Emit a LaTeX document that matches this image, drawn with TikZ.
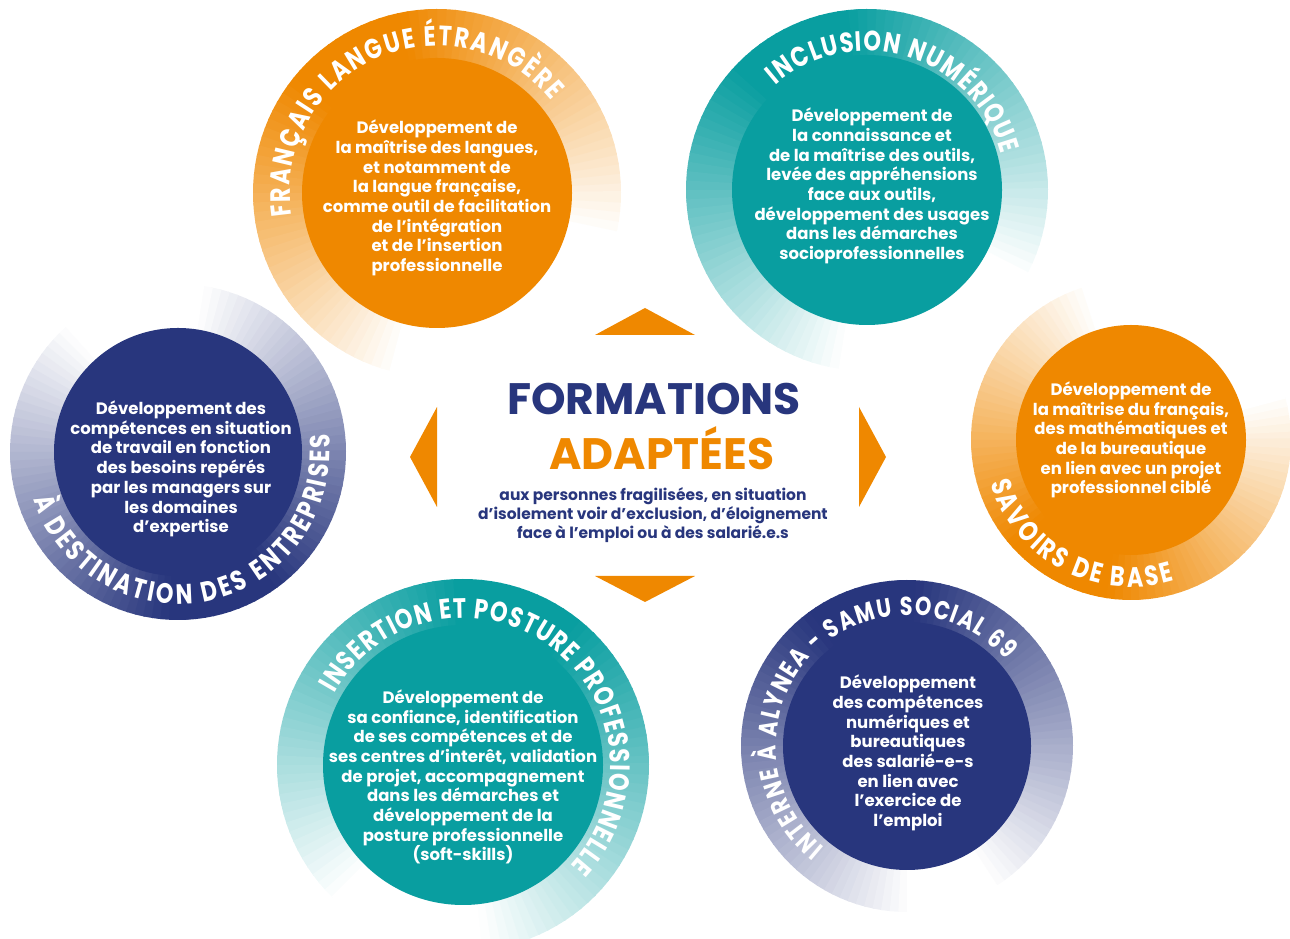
\documentclass[tikz,border=0pt]{standalone}
\usepackage{fontspec}
\setmainfont{Poppins}
\newfontfamily\ringfam{Poppins}[FakeStretch=0.8]
\usetikzlibrary{decorations.text,positioning}

\definecolor{orangeF}{RGB}{239,136,0}
\definecolor{tealF}{RGB}{9,158,160}
\definecolor{navyF}{RGB}{40,54,125}

\newcommand{\ringfont}{\ringfam\bfseries\fontsize{28}{28}\selectfont}
\newcommand{\ringfontsm}{\ringfam\bfseries\fontsize{26}{26}\selectfont}

\tikzset{
  disc/.style={circle, inner sep=0pt, minimum size={2*#1*1pt}},
  bodytxt/.style={text=white, align=center, inner sep=0pt, font=\bfseries\fontsize{16.5}{19.7}\selectfont},
  ringtxt/.style={decorate, decoration={text along path, text align=fit to path, text color=white, text={#1}}},
  pointer/.style={fill=orangeF},
}

\begin{document}
\begin{tikzpicture}[x=1pt, y=1pt]
  \useasboundingbox (0,0) rectangle (1290,939);

  % fading rings
  \foreach \cx/\cy/\rout/\col/\peak/\wid in {437/746/184/orangeF/120/135, 867/749/181/tealF/115/145, 1131/499/160/orangeF/240/135, 178/487/168/navyF/285/155, 463/174/186/tealF/70/155, 907/193/166/navyF/105/165}{
    \foreach \a in {0,3,...,357}{
      \pgfmathsetmacro\d{abs(mod(\a-\peak+540,360)-180)}
      \pgfmathsetmacro\p{100*max(0,min(1,(\wid-\d)/(\wid-20)))}
      \fill[\col!\p!white] (\cx,\cy) -- ++(\a:\rout) arc[start angle=\a, end angle=\a+3.6, radius=\rout] -- cycle;
    }
  }

  % discs
  \node[disc=135, fill=orangeF] (fle) at (437,746) {};
  \node[disc=135, fill=tealF] (numerique) at (867,749) {};
  \node[disc=115, fill=orangeF] (savoirs) at (1131,499) {};
  \node[disc=124, fill=navyF] (entreprises) at (178,487) {};
  \node[disc=140, fill=tealF] (posture) at (463,174) {};
  \node[disc=124, fill=navyF] (alynea) at (907,193) {};

  % texts inside
  \node[bodytxt] (fle-txt) at ([yshift=-5pt]fle.center) {Développement de\\la maîtrise des langues,\\et notamment de\\la langue française,\\comme outil de facilitation\\de l’intégration\\et de l’insertion\\professionnelle};
  \node[bodytxt] (numerique-txt) at ([xshift=5pt, yshift=4pt]numerique.center) {Développement de\\la connaissance et\\de la maîtrise des outils,\\levée des appréhensions\\face aux outils,\\développement des usages\\dans les démarches\\socioprofessionnelles};
  \node[bodytxt] (savoirs-txt) at (savoirs.center) {Développement de\\la maîtrise du français,\\des mathématiques et\\de la bureautique\\en lien avec un projet\\professionnel ciblé};
  \node[bodytxt] (entreprises-txt) at ([xshift=3pt, yshift=-17pt]entreprises.center) {Développement des\\compétences en situation\\de travail en fonction\\des besoins repérés\\par les managers sur\\les domaines\\d’expertise};
  \node[bodytxt] (posture-txt) at ([yshift=-12pt]posture.center) {Développement de\\sa confiance, identification\\de ses compétences et de\\ses centres d’interêt, validation\\de projet, accompagnement\\dans les démarches et\\développement de la\\posture professionnelle\\(soft-skills)};
  \node[bodytxt] (alynea-txt) at ([xshift=1pt, yshift=-7pt]alynea.center) {Développement\\des compétences\\numériques et\\bureautiques\\des salarié-e-s\\en lien avec\\l’exercice de\\l’emploi};

  % ring titles
  \path[ringtxt={|\ringfont|FRANÇAIS LANGUE ÉTRANGÈRE}] ([shift={(189:147)}]fle.center) arc[start angle=189, end angle=39, radius=147];
  \path[ringtxt={|\ringfont|INCLUSION NUMÉRIQUE}] ([shift={(131:139)}]numerique.center) arc[start angle=131, end angle=15, radius=139];
  \path[ringtxt={|\ringfont|SAVOIRS DE BASE}] ([shift={(197:147)}]savoirs.center) arc[start angle=197, end angle=287, radius=147];
  \path[ringtxt={|\ringfont|À DESTINATION DES ENTREPRISES}] ([shift={(198:152)}]entreprises.center) arc[start angle=198, end angle=367, radius=152];
  \path[ringtxt={|\ringfont|INSERTION ET POSTURE PROFESSIONNELLE}] ([shift={(151:147)}]posture.center) arc[start angle=151, end angle=-43, radius=147];
  \path[ringtxt={|\ringfontsm|INTERNE À ALYNEA - SAMU SOCIAL 69}] ([shift={(231:131)}]alynea.center) arc[start angle=231, end angle=41, radius=131];

  % centre
  \fill[pointer] (595,604) -- (645,631) -- (695,604) -- cycle;
  \fill[pointer] (595,363) -- (645,337) -- (695,363) -- cycle;
  \fill[pointer] (437,532) -- (410,482) -- (437,432) -- cycle;
  \fill[pointer] (859,532) -- (886,482) -- (859,432) -- cycle;

  \node[anchor=base, text=navyF, font=\bfseries\fontsize{44}{44}\selectfont, inner sep=0pt] (formations) at (654,524) {FORMATIONS};
  \node[anchor=base, text=orangeF, font=\bfseries\fontsize{44}{44}\selectfont, inner sep=0pt] (adaptees) at (662,469) {ADAPTÉES};
  \node[text=navyF, align=center, inner sep=0pt, font=\bfseries\fontsize{15.5}{19}\selectfont] (public) at (653,424) {aux personnes fragilisées, en situation\\d’isolement voir d’exclusion, d’éloignement\\face à l’emploi ou à des salarié.e.s};
\end{tikzpicture}
\end{document}
